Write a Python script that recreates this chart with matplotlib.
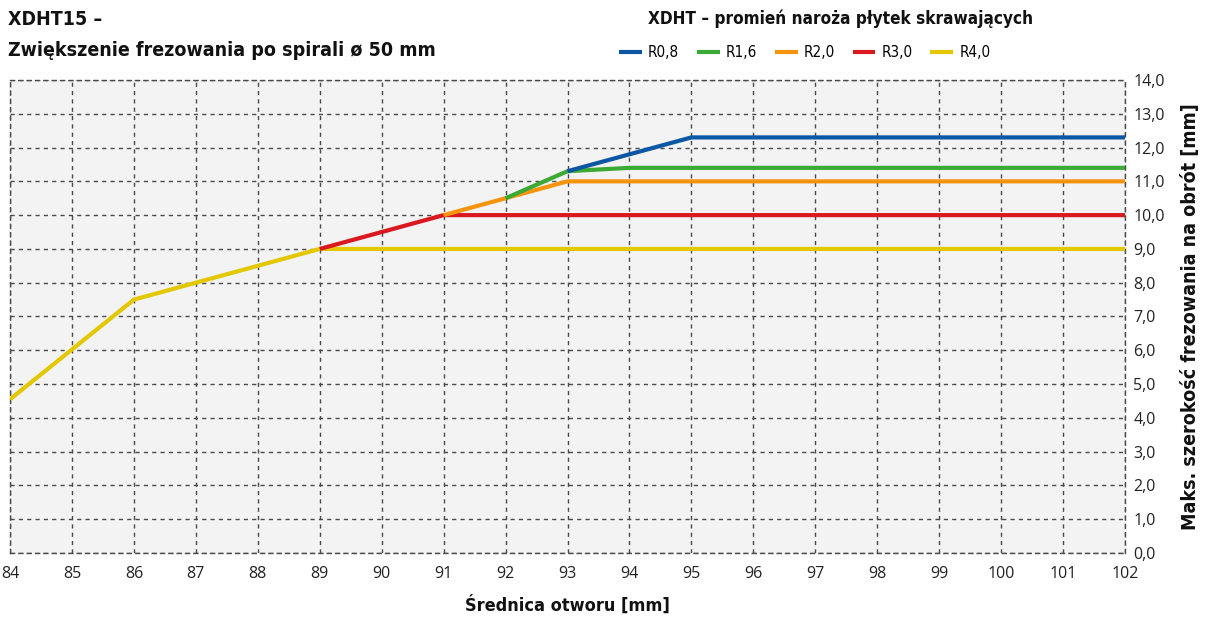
import matplotlib.pyplot as plt

# hole diameter [mm] and max. milling width per revolution [mm]
x_r08 = [93, 95, 102]
y_r08 = [11.3, 12.3, 12.3]
x_r16 = [92, 93, 94, 102]
y_r16 = [10.5, 11.3, 11.4, 11.4]
x_r20 = [91, 92, 93, 102]
y_r20 = [10.0, 10.5, 11.0, 11.0]
x_r30 = [89, 91, 102]
y_r30 = [9.0, 10.0, 10.0]
x_r40 = [84, 86, 89, 102]
y_r40 = [4.55, 7.5, 9.0, 9.0]

labels = ['R0,8', 'R1,6', 'R2,0', 'R3,0', 'R4,0']
colors = ['#0b57a4', '#3aaa35', '#f7940f', '#d9181f', '#e3c800']

xticks = list(range(84, 103))
yticks = list(range(0, 15))

bold = dict(family='DejaVu Sans', fontstretch='condensed', fontweight='bold')
reg = ['Open Sans', 'DejaVu Sans']

fig = plt.figure(figsize=(12.09, 6.19), dpi=100)
ax = fig.add_axes([0.0083, 0.1066, 0.9222, 0.7642])
ax.set_facecolor('#f3f3f3')

series = [(x_r40, y_r40), (x_r30, y_r30), (x_r20, y_r20), (x_r16, y_r16), (x_r08, y_r08)]
handles = []
for i, (xs, ys) in enumerate(series):
    idx = 4 - i
    ln, = ax.plot(xs, ys, color=colors[idx], lw=3, solid_capstyle='butt',
                  label=labels[idx], zorder=3 + i)
    handles.append(ln)
handles = handles[::-1]

ax.set_xlim(84, 102)
ax.set_ylim(0, 14)
ax.set_xticks(xticks)
ax.set_yticks(yticks)
ax.set_xticklabels([str(v) for v in xticks], fontsize=11.5, family=reg, color='#222222')
ax.set_yticklabels([f'{v:.1f}'.replace('.', ',') for v in yticks], fontsize=11.5,
                   family=reg, color='#222222')
ax.yaxis.tick_right()
ax.yaxis.set_label_position('right')
ax.tick_params(length=0)
ax.tick_params(axis='x', pad=9)
ax.tick_params(axis='y', pad=6)
ax.grid(True, color='#4a4a4a', ls=(0, (3, 3)), lw=1)
for s in ax.spines.values():
    s.set_color('#4a4a4a')
    s.set_linestyle((0, (3, 3)))
    s.set_linewidth(1)

ax.set_xlabel('Średnica otworu [mm]', fontsize=13, labelpad=10, color='#111111', **bold)
ax.set_ylabel('Maks. szerokość frezowania na obrót [mm]', fontsize=14, labelpad=12,
              color='#111111', **bold)

fig.text(0.0066, 0.968, 'XDHT15 –', fontsize=14, va='center', color='#111111', **bold)
fig.text(0.0066, 0.918, 'Zwiększenie frezowania po spirali ø 50 mm', fontsize=14,
         va='center', color='#111111', **bold)
fig.text(0.695, 0.970, 'XDHT – promień naroża płytek skrawających', fontsize=12.3,
         va='center', ha='center', color='#111111', **bold)

fig.legend(handles=handles, labels=labels, loc='center left', ncol=5,
           bbox_to_anchor=(0.512, 0.915), frameon=False, handlelength=1.5,
           columnspacing=1.15, handletextpad=0.4, borderpad=0, borderaxespad=0,
           prop={'family': 'DejaVu Sans', 'stretch': 'condensed', 'size': 11})

fig.savefig('out.png', dpi=100)
